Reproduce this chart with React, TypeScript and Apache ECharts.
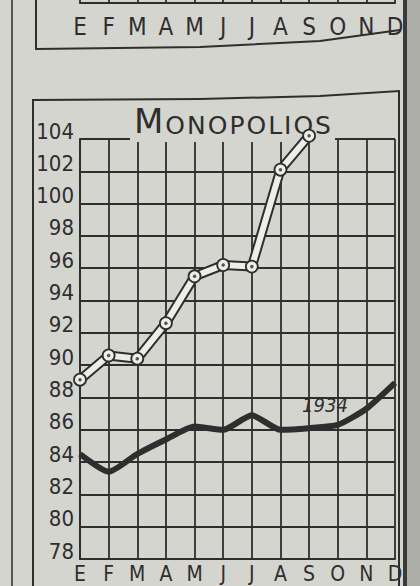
import React, { useEffect, useRef } from "react";
import * as echarts from "echarts";

const months = ["E", "F", "M", "A", "M", "J", "J", "A", "S", "O", "N", "D"];
const monopolios: (number | null)[] = [89.1, 90.6, 90.4, 92.6, 95.5, 96.2, 96.1, 102.1, 104.2, null, null, null];
const year1934 = [84.5, 83.4, 84.5, 85.4, 86.2, 86.0, 86.9, 86.0, 86.1, 86.3, 87.3, 88.9];
const yMin = 78;
const yMax = 104;
const yStep = 2;
const titleText = "MONOPOLIOS";
const seriesLabel = "1934";

const PAPER = "#d5d5cf";
const INK = "#2e2e2e";
const BAND = "#ededea";
const COND = "'DejaVu Sans Condensed', 'DejaVu Sans', sans-serif";

export default function App() {
  const ref = useRef<HTMLDivElement>(null);
  useEffect(() => {
    if (!ref.current) return;
    const chart = echarts.init(ref.current, null, { renderer: "svg" });
    const richTitle = titleText
      .split("")
      .map((c, i) => (i === 0 ? `{m|${c}}` : `{l|${c}}`))
      .join("");
    chart.setOption({
      animation: false,
      backgroundColor: "transparent",
      grid: [
        { left: 80, right: 25, top: 139, bottom: 27, outerBoundsMode: "none", containLabel: false },
        { left: 80, right: 25, top: -40, bottom: 583, outerBoundsMode: "none", containLabel: false },
      ],
      xAxis: [
        {
          type: "category",
          gridIndex: 0,
          data: months,
          boundaryGap: false,
          axisLine: { show: true, lineStyle: { color: INK, width: 2 } },
          axisTick: { show: false },
          splitLine: { show: true, lineStyle: { color: INK, width: 1.8 } },
          axisLabel: { color: INK, fontSize: 21, fontFamily: COND, margin: 6, lineHeight: 17, interval: 0 },
        },
        {
          type: "category",
          gridIndex: 1,
          data: months,
          boundaryGap: false,
          axisLine: { show: true, lineStyle: { color: INK, width: 2 } },
          axisTick: { show: false },
          splitLine: { show: true, lineStyle: { color: INK, width: 1.8 } },
          axisLabel: { color: INK, fontSize: 24, fontFamily: COND, margin: 14, lineHeight: 20, interval: 0 },
        },
      ],
      yAxis: [
        {
          type: "value",
          gridIndex: 0,
          min: yMin,
          max: yMax,
          interval: yStep,
          axisLine: { show: true, lineStyle: { color: INK, width: 2 } },
          axisTick: { show: false },
          splitLine: { show: true, lineStyle: { color: INK, width: 1.8 } },
          axisLabel: {
            color: INK,
            fontSize: 22,
            fontFamily: COND,
            margin: 6,
            verticalAlign: "bottom",
            lineHeight: 16,
          },
        },
        {
          type: "value",
          gridIndex: 1,
          min: 0,
          max: 1,
          show: false,
        },
      ],
      series: [
        {
          type: "line",
          data: year1934,
          xAxisIndex: 0,
          yAxisIndex: 0,
          smooth: 0.2,
          symbol: "none",
          clip: false,
          lineStyle: { color: INK, width: 6 },
          z: 15,
        },
        {
          type: "line",
          data: monopolios,
          xAxisIndex: 0,
          yAxisIndex: 0,
          symbol: "none",
          clip: false,
          lineStyle: { color: INK, width: 10 },
          z: 20,
        },
        {
          type: "line",
          data: monopolios,
          xAxisIndex: 0,
          yAxisIndex: 0,
          symbol: "circle",
          symbolSize: 12,
          clip: false,
          lineStyle: { color: BAND, width: 6 },
          itemStyle: { color: BAND, borderColor: INK, borderWidth: 1.8 },
          z: 21,
        },
        {
          type: "scatter",
          data: monopolios,
          xAxisIndex: 0,
          yAxisIndex: 0,
          symbol: "circle",
          symbolSize: 3.5,
          clip: false,
          itemStyle: { color: INK },
          z: 22,
        },
      ],
      graphic: [
        { type: "line", shape: { x1: 12, y1: 0, x2: 12, y2: 586 }, style: { stroke: "#555", lineWidth: 2 }, z: 5 },
        { type: "rect", shape: { x: 403, y: 0, width: 4, height: 586 }, style: { fill: "#3a3a3a" }, z: 5 },
        { type: "rect", shape: { x: 407, y: 0, width: 13, height: 586 }, style: { fill: "#aeaea8" }, z: 5 },
        {
          type: "polyline",
          shape: { points: [[36, -5], [36, 49], [200, 47], [320, 41], [400, 30]] },
          style: { stroke: INK, lineWidth: 2, fill: "none" },
          z: 5,
        },
        {
          type: "polyline",
          shape: { points: [[33, 590], [33, 100], [200, 99], [320, 96], [399, 91], [399, 590]] },
          style: { stroke: INK, lineWidth: 2, fill: "none" },
          z: 5,
        },
        { type: "rect", shape: { x: 130, y: 104, width: 205, height: 38 }, style: { fill: PAPER }, z: 10 },
        {
          type: "text",
          x: 133,
          y: 138,
          z: 11,
          style: {
            text: richTitle,
            verticalAlign: "bottom",
            fill: INK,
            rich: {
              m: { fontSize: 34, fontFamily: "DejaVu Sans", fill: INK, padding: [0, 1, 0, 1], verticalAlign: "bottom" },
              l: { fontSize: 25, fontFamily: "DejaVu Sans", fill: INK, padding: [0, 1, 0, 1], verticalAlign: "bottom" },
            },
          },
        },
        {
          type: "text",
          x: 325,
          y: 405,
          z: 11,
          style: {
            text: seriesLabel,
            align: "center",
            verticalAlign: "middle",
            fontSize: 20,
            fontStyle: "italic",
            fontFamily: COND,
            fill: INK,
          },
        },
      ],
    });
    return () => chart.dispose();
  }, []);
  return (
    <div style={{ position: "fixed", left: 0, top: 0, width: 420, height: 586, background: PAPER, overflow: "hidden" }}>
      <div ref={ref} style={{ width: 420, height: 586 }} />
    </div>
  );
}
